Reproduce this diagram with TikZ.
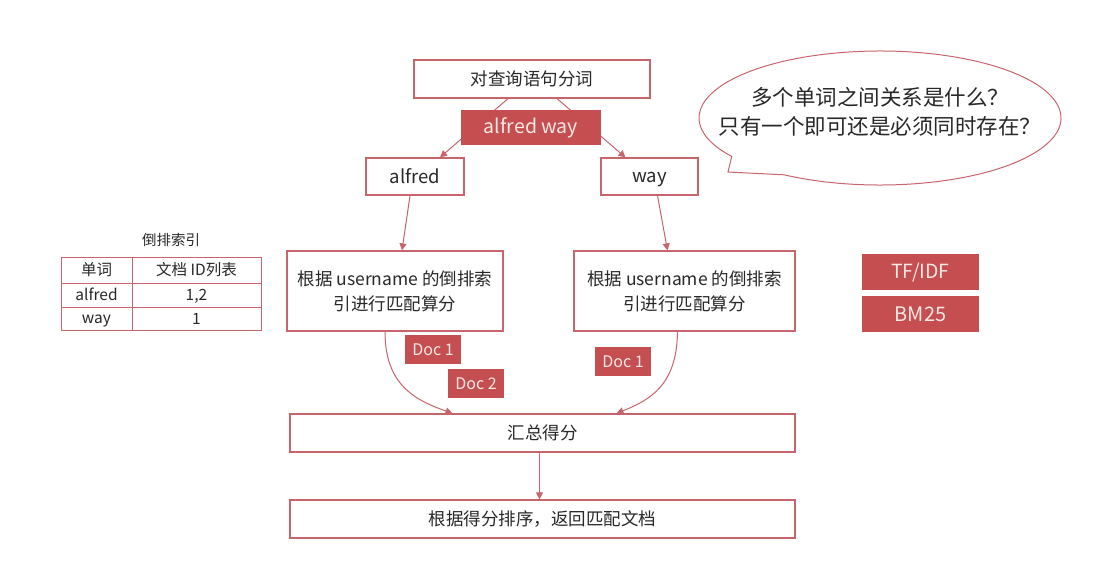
\documentclass[tikz,border=0pt]{standalone}
\usepackage{fontspec}
\setmainfont{Noto Sans CJK SC}
\usetikzlibrary{arrows.meta,calc}
\definecolor{bord}{RGB}{200,100,108}
\definecolor{redfill}{RGB}{196,78,80}
\definecolor{redtext}{RGB}{252,232,228}
\definecolor{txt}{RGB}{40,40,40}
\tikzset{
  box/.style={draw=bord, line width=1.2pt, fill=white, inner sep=0pt, text=txt, font=\fontsize{17.5}{25}\selectfont, align=center},
  one/.style={execute at begin node={\vphantom{根}}},
  redbox/.style={fill=redfill, draw=none, inner sep=0pt, text=redtext, font=\fontsize{18}{22}\selectfont, one},
  cell/.style={draw=bord, line width=1pt, inner sep=0pt, text=txt, font=\fontsize{15.5}{18}\selectfont, one},
  arr/.style={draw=bord, line width=1pt, -{Triangle[length=7pt,width=7pt]}},
}
\begin{document}
\begin{tikzpicture}[x=1pt,y=-1pt]
\useasboundingbox (0,0) rectangle (1114,573);
\fill[white] (0,0) rectangle (1114,573);

% top flow
\node[box, one, minimum width=236pt, minimum height=38pt] (top) at (532,79) {对查询语句分词};
\node[box, one, minimum width=98pt, minimum height=37pt, font=\fontsize{18.5}{22}\selectfont] (alfred) at (415,176.5) {alfred};
\node[box, one, minimum width=97pt, minimum height=37pt, font=\fontsize{18.5}{22}\selectfont] (way) at (649.5,176.5) {way};
\draw[arr] ([xshift=-24pt]top.south) -- ([xshift=25pt]alfred.north);
\draw[arr] ([xshift=25pt]top.south) -- ([xshift=-24pt]way.north);
\node[redbox, minimum width=140pt, minimum height=35pt, font=\fontsize{19.5}{22}\selectfont] (aw) at (531,127.5) {alfred way};

% scoring boxes
\node[box, minimum width=216pt, minimum height=80pt] (left) at (395,291) {根据 username 的倒排索\\引进行匹配算分};
\node[box, minimum width=221pt, minimum height=80pt] (right) at (684.5,291) {根据 username 的倒排索\\引进行匹配算分};
\draw[arr] ([xshift=-5pt]alfred.south) -- ([xshift=7pt]left.north);
\draw[arr] ([xshift=8pt]way.south) -- ([xshift=-17pt]right.north);

% summary
\node[box, one, minimum width=505pt, minimum height=38pt] (sum) at (542.5,433) {汇总得分};
\node[box, one, minimum width=505pt, minimum height=38pt] (final) at (542.5,519) {根据得分排序，返回匹配文档};
\draw[arr] ([xshift=-10pt]left.south) .. controls (385,385) and (415,400) .. ([xshift=-90pt]sum.north);
\draw[arr] ([xshift=-7pt]right.south) .. controls (677,385) and (650,400) .. ([xshift=74pt]sum.north);
\draw[arr] ([xshift=-3pt]sum.south) -- ([xshift=-3pt]final.north);

% doc labels
\node[redbox, minimum width=56pt, minimum height=29pt, font=\fontsize{16}{18}\selectfont] (d1l) at (433,349.5) {Doc 1};
\node[redbox, minimum width=56pt, minimum height=29pt, font=\fontsize{16}{18}\selectfont] (d2l) at (476,383.5) {Doc 2};
\node[redbox, minimum width=56pt, minimum height=29pt, font=\fontsize{16}{18}\selectfont] (d1r) at (623,361.5) {Doc 1};

% inverted index table
\node[text=txt, font=\fontsize{14.5}{17}\selectfont] (ttl) at (171,240) {倒排索引};
\node[cell, minimum width=71pt, minimum height=26pt] (c11) at (96.5,270) {单词};
\node[cell, minimum width=129pt, minimum height=26pt] (c12) at (196.5,270) {文档 ID列表};
\node[cell, minimum width=71pt, minimum height=24pt] (c21) at (96.5,295) {alfred};
\node[cell, minimum width=129pt, minimum height=24pt] (c22) at (196.5,295) {1,2};
\node[cell, minimum width=71pt, minimum height=23pt] (c31) at (96.5,318.5) {way};
\node[cell, minimum width=129pt, minimum height=23pt] (c32) at (196.5,318.5) {1};

% TF/IDF and BM25
\node[redbox, minimum width=117pt, minimum height=36pt, font=\fontsize{19.5}{22}\selectfont] (tfidf) at (920.5,272) {TF/IDF};
\node[redbox, minimum width=117pt, minimum height=36pt, font=\fontsize{20}{22}\selectfont] (bm) at (920.5,314) {BM25};

% speech bubble
\draw[draw=bord, line width=1pt, fill=white]
  ($(880,118)+(145:181 and 67)$) coordinate (tailA)
  -- (728,172) coordinate (tip)
  -- ($(880,118)+(122:181 and 67)$)
  arc[start angle=122, end angle=-215, x radius=181, y radius=67] -- cycle;
\node[text=txt, align=center, font=\fontsize{21.5}{29}\selectfont] (bubble) at (880,112) {多个单词之间关系是什么？\\只有一个即可还是必须同时存在？};
\end{tikzpicture}
\end{document}
